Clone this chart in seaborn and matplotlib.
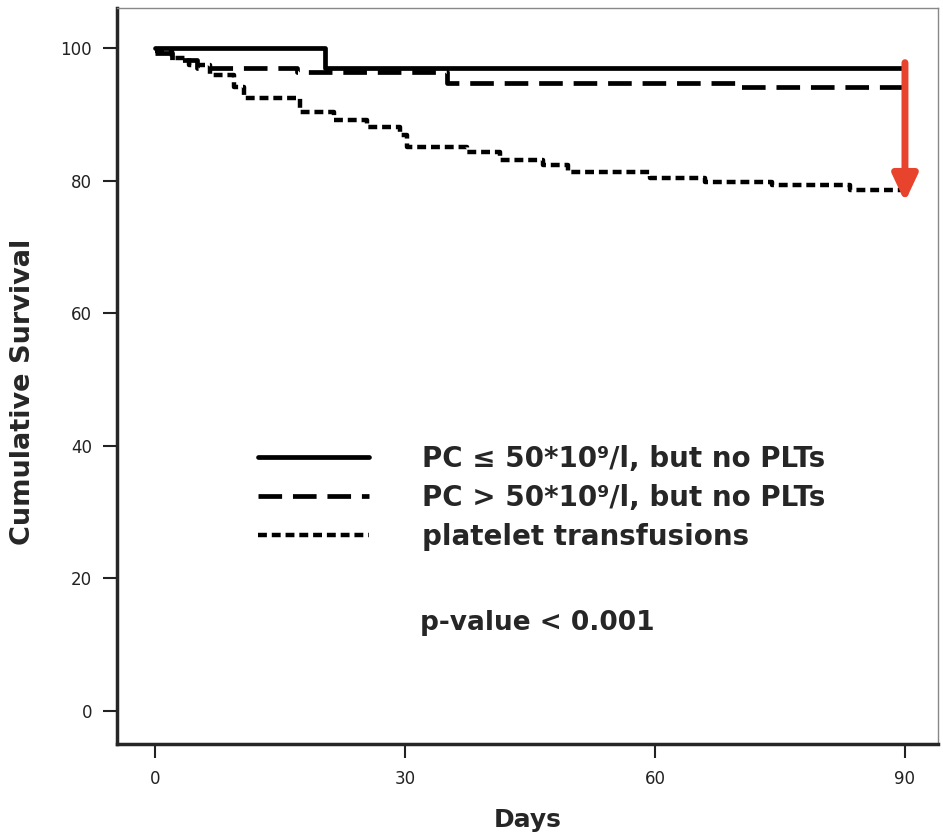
import pandas as pd
import matplotlib
matplotlib.use("Agg")
import matplotlib.pyplot as plt
import seaborn as sns
from matplotlib.lines import Line2D

# Kaplan-Meier style step curves
days_low = [0, 20.4, 90]
surv_low = [100, 97.0, 97.0]

days_high = [0, 2, 5, 17, 35, 70, 90]
surv_high = [99.2, 98.2, 97.0, 96.4, 94.8, 94.1, 94.1]

days_plt = [0, 2, 4, 6.6, 9.4, 10.6, 17.4, 21.4, 25.4, 29.4, 30.2, 37.4, 41.4,
            46.6, 49.5, 59.4, 66, 74, 83.4, 90]
surv_plt = [99.5, 98.5, 97.4, 95.9, 94.1, 92.5, 90.3, 89.1, 88.1, 86.9, 85.1,
            84.3, 83.1, 82.4, 81.3, 80.4, 79.8, 79.3, 78.6, 78.1]

labels = ["PC \u2264 50*10\u2079/l, but no PLTs",
          "PC > 50*10\u2079/l, but no PLTs",
          "platelet transfusions"]
x_ticks = [0, 30, 60, 90]
y_ticks = [0, 20, 40, 60, 80, 100]
arrow_from = 97.8
arrow_to = 76.8

sns.set_style("ticks")
plt.rcParams['font.family'] = ['DejaVu Sans']

fig = plt.figure(figsize=(9.43, 8.33), dpi=100)
ax = fig.add_axes([0.124, 0.107, 0.871, 0.883])

styles = [dict(ls="-", lw=3.4),
          dict(ls=(0, (5, 2.3)), lw=3.4),
          dict(ls=(0, (2.0, 1.1)), lw=3.2)]
series = [(days_low, surv_low), (days_high, surv_high), (days_plt, surv_plt)]
for (d, s), st in zip(series, styles):
    df = pd.DataFrame({"Days": d, "Survival": s})
    sns.lineplot(data=df, x="Days", y="Survival", ax=ax, color="black",
                 drawstyle="steps-post", linestyle=st["ls"], linewidth=st["lw"])

# red arrow marking the gap at day 90
ax.annotate("", xy=(90, arrow_to), xytext=(90, arrow_from),
            arrowprops=dict(arrowstyle="-|>,head_width=0.75,head_length=1.6",
                            color="#e8432d", lw=5, shrinkA=0, shrinkB=0))

ax.set_xlim(-4.6, 94)
ax.set_ylim(-5, 106)
ax.set_xticks(x_ticks)
ax.set_yticks(y_ticks)
ax.tick_params(labelsize=12, length=10, width=1.5, colors="#222222")
ax.tick_params(axis="y", pad=8)
ax.tick_params(axis="x", pad=9)
for sp in ["left", "bottom"]:
    ax.spines[sp].set_linewidth(2.5)
for sp in ["top", "right"]:
    ax.spines[sp].set_linewidth(1.0)
    ax.spines[sp].set_color("#888888")

ax.set_xlabel("Days", fontsize=18, fontweight="bold", labelpad=14)
ax.set_ylabel("Cumulative Survival", fontsize=19.5, fontweight="bold")
ax.yaxis.set_label_coords(-0.099, 0.478)

handles = [Line2D([], [], color="black", linestyle=st["ls"], linewidth=st["lw"])
           for st in styles]
leg = ax.legend(handles, labels, loc="upper left", bbox_to_anchor=(0.172, 0.407),
                frameon=False, handlelength=4.0, handletextpad=1.9,
                borderpad=0, borderaxespad=0, labelspacing=0.4,
                prop=dict(weight="bold", size=20))
ax.text(0.369, 0.164, "p-value < 0.001", transform=ax.transAxes,
        fontsize=19, fontweight="bold", va="center")

fig.savefig("out.png", dpi=100)
